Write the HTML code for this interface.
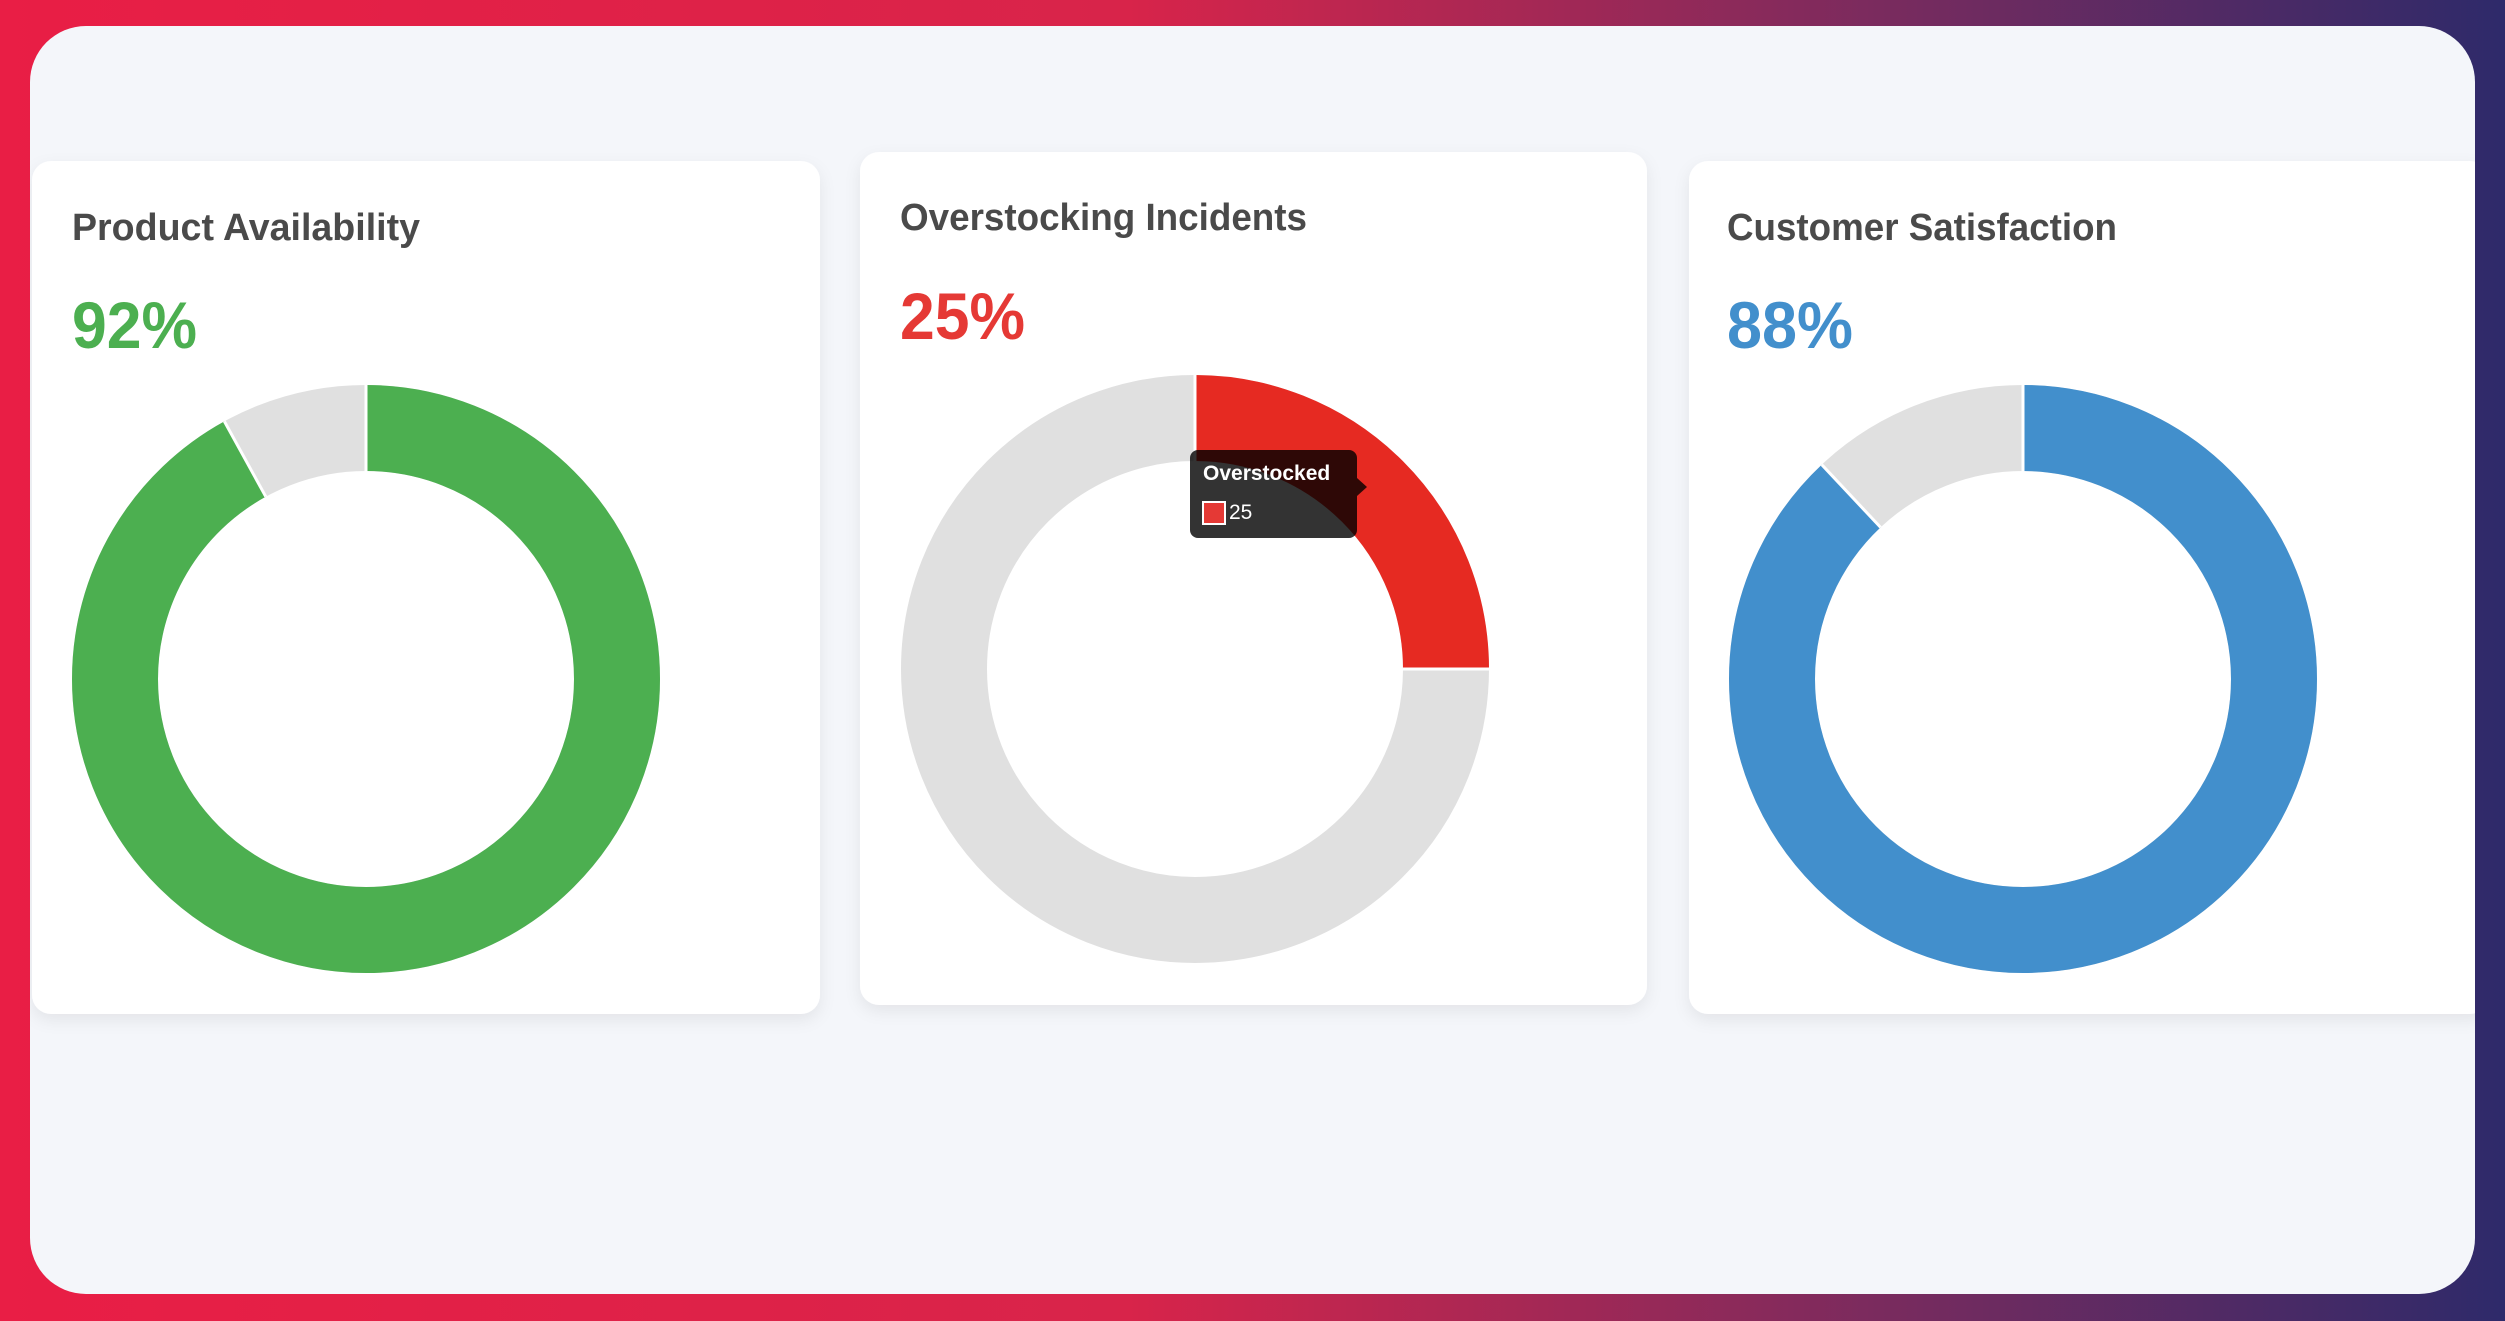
<!DOCTYPE html>
<html><head><meta charset="utf-8"><style>
html,body{margin:0;padding:0;width:2505px;height:1321px;overflow:hidden}
svg{display:block}
text{font-family:"Liberation Sans",sans-serif;font-weight:bold}
</style></head><body>
<svg width="2505" height="1321" viewBox="0 0 2505 1321" xmlns="http://www.w3.org/2000/svg">
<defs>
<linearGradient id="bg" x1="0" y1="0" x2="1" y2="0">
<stop offset="0" stop-color="#e91e45"/>
<stop offset="0.45" stop-color="#d8244a"/>
<stop offset="0.75" stop-color="#7a2b5e"/>
<stop offset="1" stop-color="#2e2a6a"/>
</linearGradient>
<filter id="sh" x="-5%" y="-5%" width="110%" height="115%">
<feDropShadow dx="0" dy="6" stdDeviation="8" flood-color="#000" flood-opacity="0.07"/>
</filter>
<clipPath id="pc"><rect x="30" y="26" width="2445" height="1268" rx="56"/></clipPath>
</defs>
<rect width="2505" height="1321" fill="url(#bg)"/>
<rect x="30" y="26" width="2445" height="1268" rx="56" fill="#f4f6fa"/>
<g clip-path="url(#pc)">
<rect x="32" y="161" width="788" height="853" rx="19" fill="#fff" filter="url(#sh)"/>
<rect x="860" y="152" width="787" height="853" rx="19" fill="#fff" filter="url(#sh)"/>
<rect x="1689" y="161" width="800" height="853" rx="19" fill="#fff" filter="url(#sh)"/>
</g>

<text x="72" y="240" font-size="38" fill="#4a4a4a" textLength="348" lengthAdjust="spacingAndGlyphs">Product Availability</text>
<text x="72" y="348" font-size="66" fill="#4caf50" textLength="125" lengthAdjust="spacingAndGlyphs">92%</text>
<text x="900" y="230" font-size="38" fill="#4a4a4a" textLength="407" lengthAdjust="spacingAndGlyphs">Overstocking Incidents</text>
<text x="900" y="339" font-size="66" fill="#e53935" textLength="125" lengthAdjust="spacingAndGlyphs">25%</text>
<text x="1727" y="240" font-size="38" fill="#4a4a4a" textLength="390" lengthAdjust="spacingAndGlyphs">Customer Satisfaction</text>
<text x="1727" y="348" font-size="66" fill="#428fcc" textLength="126" lengthAdjust="spacingAndGlyphs">88%</text>

<!-- donut 1 -->
<circle cx="366" cy="679" r="251" fill="none" stroke="#e0e0e0" stroke-width="86"/>
<circle cx="366" cy="679" r="251" fill="none" stroke="#4caf50" stroke-width="86" stroke-dasharray="1450.9 3000" transform="rotate(-90 366 679)"/>
<line x1="366" y1="385" x2="366" y2="471" stroke="#fff" stroke-width="3"/>
<line x1="265.8" y1="496.7" x2="224.4" y2="421.4" stroke="#fff" stroke-width="3"/>

<!-- donut 2 -->
<circle cx="1195" cy="669" r="251" fill="none" stroke="#e0e0e0" stroke-width="86"/>
<circle cx="1195" cy="669" r="251" fill="none" stroke="#e62a22" stroke-width="86" stroke-dasharray="394.3 3000" transform="rotate(-90 1195 669)"/>
<line x1="1195" y1="375" x2="1195" y2="461" stroke="#fff" stroke-width="3"/>
<line x1="1403" y1="669" x2="1489" y2="669" stroke="#fff" stroke-width="3"/>

<!-- donut 3 -->
<circle cx="2023" cy="679" r="251" fill="none" stroke="#e0e0e0" stroke-width="86"/>
<circle cx="2023" cy="679" r="251" fill="none" stroke="#428fcc" stroke-width="86" stroke-dasharray="1387.8 3000" transform="rotate(-90 2023 679)"/>
<line x1="2023" y1="385" x2="2023" y2="471" stroke="#fff" stroke-width="3"/>
<line x1="1880.6" y1="527.4" x2="1821.8" y2="464.7" stroke="#fff" stroke-width="3"/>

<!-- tooltip -->
<rect x="1190" y="450" width="167" height="88" rx="8" fill="#000" fill-opacity="0.8"/>
<path d="M1357 478 L1367 487 L1357 496 Z" fill="#000" fill-opacity="0.8"/>
<text x="1203" y="480" font-size="21" fill="#fff">Overstocked</text>
<rect x="1203" y="502" width="22" height="22" fill="#e53935" stroke="#fff" stroke-width="2"/>
<text x="1229" y="519" font-size="21" font-weight="normal" fill="#fff" style="font-weight:normal">25</text>
</svg>
</body></html>
